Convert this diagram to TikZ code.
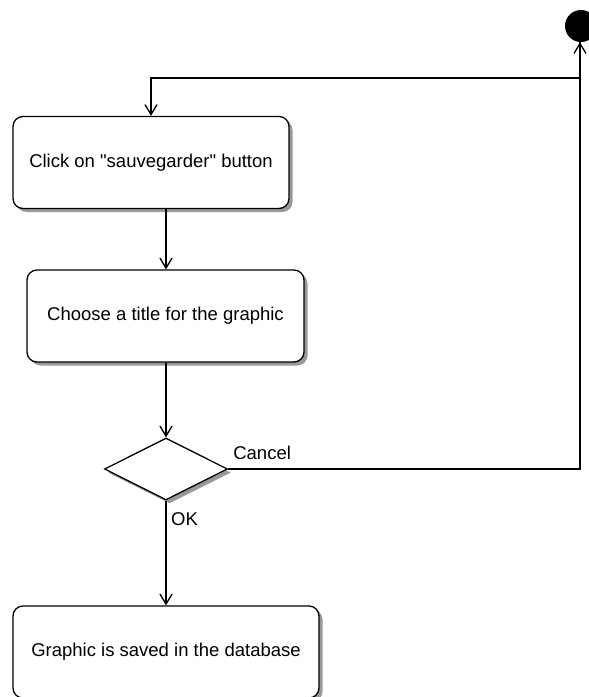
\documentclass[tikz,border=0pt]{standalone}
\usepackage{fontspec}
\setmainfont{Liberation Sans}[Ligatures=TeXOff]
\usetikzlibrary{positioning}
\usetikzlibrary{shapes.geometric}
\usetikzlibrary{arrows.meta}
\usetikzlibrary{shadows}
\usetikzlibrary{calc}

\tikzset{
   activity/.style={draw, rounded corners=10pt, line width=1.3pt, fill=white,
      minimum height=92pt, inner sep=0pt, font=\fontsize{18.5}{22}\selectfont,
      drop shadow={shadow xshift=3.5pt, shadow yshift=-3.5pt, fill=black!40, opacity=1}},
   choice/.style={draw, diamond, line width=1.3pt, fill=white, inner sep=0pt,
      minimum width=123pt, minimum height=62pt,
      drop shadow={shadow xshift=3.5pt, shadow yshift=-3.5pt, fill=black!40, opacity=1}},
   lbl/.style={inner sep=0pt, font=\fontsize{18.5}{22}\selectfont},
   flow/.style={line width=1.3pt, -{Straight Barb[length=10pt,width=12pt]}},
}

\begin{document}
\begin{tikzpicture}[x=1pt, y=-1pt]
   \useasboundingbox (0,0) rectangle (589,697);

   % initial state
   \node[circle, fill=black, minimum size=32pt, inner sep=0pt] (start) at (581,26) {};

   % activities
   \node[activity, minimum width=276pt] (click)  at (151,162.5) {Click on "sauvegarder" button};
   \node[activity, minimum width=277pt] (title)  at (165.5,316) {Choose a title for the graphic};
   \node[choice]                        (dec)    at (166,469) {};
   \node[activity, minimum width=306pt] (saved)  at (166,652) {Graphic is saved in the database};

   % guards
   \node[lbl, anchor=base west] (cancel) at ($(dec.east)+(5,-10)$) {Cancel};
   \node[lbl, anchor=base west] (ok)     at ($(dec.south)+(5,25)$) {OK};

   \coordinate (bend) at (580,78);

   \draw[flow] (start.south -| bend) -- (bend) -| (click.north);
   \draw[flow] (click.south -| dec.north) -- (dec.north |- title.north);
   \draw[flow] (title.south -| dec.north) -- (dec.north);
   \draw[flow] (dec.south) -- (saved.north -| dec.south);
   \draw[flow] (dec.east) -| (start.south -| bend);
\end{tikzpicture}
\end{document}
